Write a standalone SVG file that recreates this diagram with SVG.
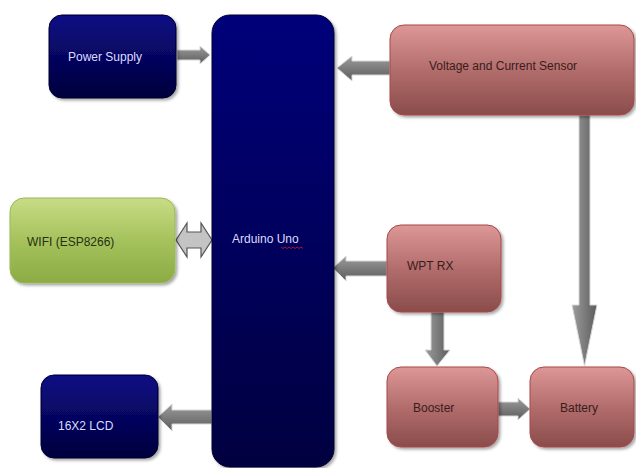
<svg xmlns="http://www.w3.org/2000/svg" width="636" height="468" viewBox="0 0 636 468">
<defs>
<linearGradient id="navy" x1="0" y1="0" x2="0" y2="1"><stop offset="0" stop-color="#0c0c85"/><stop offset="1" stop-color="#00003c"/></linearGradient>
<linearGradient id="navy2" x1="0" y1="0" x2="0" y2="1"><stop offset="0" stop-color="#05057a"/><stop offset="1" stop-color="#000040"/></linearGradient>
<linearGradient id="red" x1="0" y1="0" x2="0" y2="1"><stop offset="0" stop-color="#dc9796"/><stop offset="0.5" stop-color="#b26d6c"/><stop offset="1" stop-color="#8a4c4b"/></linearGradient>
<linearGradient id="green" x1="0" y1="0" x2="0" y2="1"><stop offset="0" stop-color="#c8dc86"/><stop offset="0.5" stop-color="#a5c25c"/><stop offset="1" stop-color="#8cab44"/></linearGradient>
<linearGradient id="arrH" x1="0" y1="0" x2="0" y2="1"><stop offset="0" stop-color="#9c9c9c"/><stop offset="1" stop-color="#5c5c5c"/></linearGradient>
<linearGradient id="arrV" x1="0" y1="0" x2="1" y2="0"><stop offset="0" stop-color="#9c9c9c"/><stop offset="1" stop-color="#5c5c5c"/></linearGradient>
<filter id="sh" x="-10%" y="-10%" width="125%" height="125%"><feDropShadow dx="2" dy="2" stdDeviation="1.5" flood-color="#000" flood-opacity="0.35"/></filter>
</defs>
<style>
.nv{fill:url(#navy);stroke:#000030;stroke-width:1;filter:url(#sh)}
.rd{fill:url(#red);stroke:#a84848;stroke-width:1;filter:url(#sh)}
.gr{fill:url(#green);stroke:#9ab85a;stroke-width:1;filter:url(#sh)}
.ah{fill:url(#arrH);stroke:#d8d8d8;stroke-width:1}
.av{fill:url(#arrV);stroke:#d8d8d8;stroke-width:1}
.ad{fill:#c4c4c4;stroke:#555;stroke-width:1.2}
.tl{font-family:"Liberation Sans",Arial,sans-serif;font-size:12px;fill:#dcdcff}
.td{font-family:"Liberation Sans",Arial,sans-serif;font-size:12px;fill:#3a1c1c}
.tg{font-family:"Liberation Sans",Arial,sans-serif;font-size:12px;fill:#263010}
</style>
<g id="connectors">
<polygon class="ah" points="177,50 200,50 200,46 210,55 200,64 200,60 177,60"/>
<polygon class="ah" points="390,61 352,61 352,56 337,68 352,81 352,75 390,75"/>
<polygon class="ad" points="176,240 187,223 187,232 201,232 201,223 212,240 201,257 201,248 187,248 187,257"/>
<polygon class="ah" points="387,261 346,261 346,256 333,268 346,281 346,276 387,276"/>
<polygon class="ah" points="212,410 172,410 172,404 158,417 172,431 172,424 212,424"/>
<polygon class="av" points="431,312 444,312 444,350 450,350 437,366 425,350 431,350"/>
<polygon class="ah" points="498,402 518,402 518,398 530,409 518,420 518,416 498,416"/>
<polygon class="av" points="579,115 590,115 590,305 597,305 584.5,366 572,305 579,305"/>
</g>
<g id="power-supply">
<rect class="nv" x="49" y="15" width="127" height="83" rx="13"/>
<text class="tl" x="68" y="61">Power Supply</text>
</g>
<g id="arduino-uno">
<rect x="212" y="15" width="122" height="452" rx="18" fill="url(#navy2)" stroke="#000030" filter="url(#sh)"/>
<text class="tl" x="232" y="243">Arduino Uno</text>
<path d="M281,247 l2,1.5 l2,-1.5 l2,1.5 l2,-1.5 l2,1.5 l2,-1.5 l2,1.5 l2,-1.5 l2,1.5 l2,-1.5 l2,1.5" fill="none" stroke="#d02020" stroke-width="0.8"/>
</g>
<g id="wifi">
<rect class="gr" x="10" y="198" width="165" height="85" rx="14"/>
<text class="tg" x="27" y="246">WIFI (ESP8266)</text>
</g>
<g id="lcd">
<rect class="nv" x="41" y="375" width="117" height="83" rx="13"/>
<text class="tl" x="58" y="430">16X2 LCD</text>
</g>
<g id="sensor">
<rect class="rd" x="390" y="25" width="244" height="90" rx="14"/>
<text class="td" x="429" y="70">Voltage and Current Sensor</text>
</g>
<g id="wpt-rx">
<rect class="rd" x="387" y="225" width="114" height="87" rx="14"/>
<text class="td" x="407" y="270">WPT RX</text>
</g>
<g id="booster">
<rect class="rd" x="387" y="367" width="111" height="80" rx="14"/>
<text class="td" x="413" y="412">Booster</text>
</g>
<g id="battery">
<rect class="rd" x="530" y="367" width="104" height="80" rx="14"/>
<text class="td" x="560" y="412">Battery</text>
</g>
</svg>
